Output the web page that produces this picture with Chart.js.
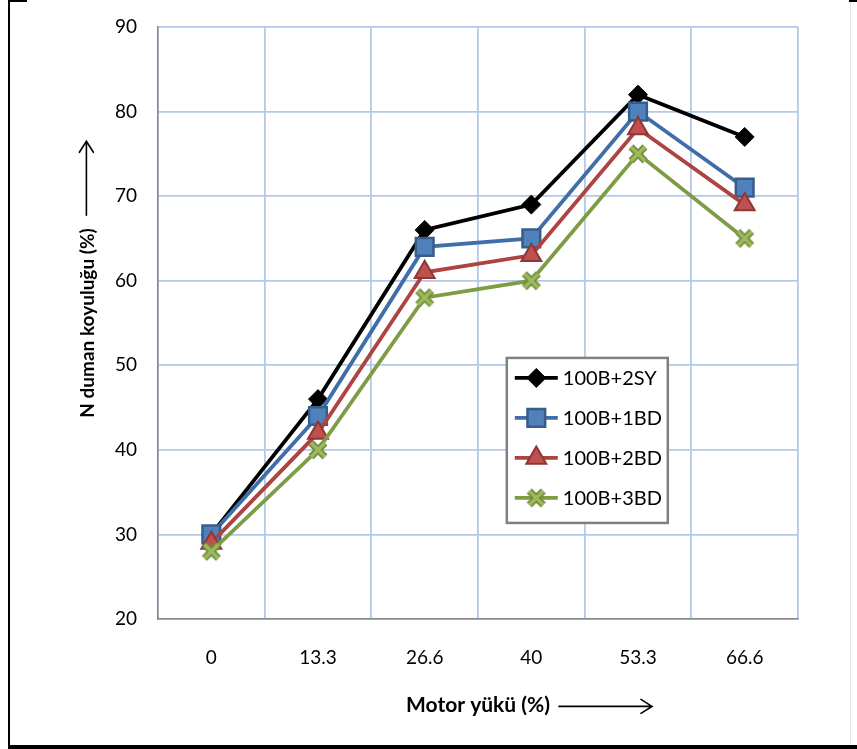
<!DOCTYPE html>
<html><head><meta charset="utf-8">
<script src="https://cdn.jsdelivr.net/npm/chart.js@4"></script>
<style>html,body{margin:0;padding:0;background:#fff}#wrap{position:relative;width:857px;height:749px}</style>
</head><body><div id="wrap"><canvas id="c" width="857" height="749"></canvas></div>
<script>
const categories = ['0', '13.3', '26.6', '40', '53.3', '66.6'];
const seriesNames = ['100B+2SY', '100B+1BD', '100B+2BD', '100B+3BD'];
const s2SY = [30, 46, 66, 69, 82, 77];
const s1BD = [30, 44, 64, 65, 80, 71];
const s2BD = [29, 42, 61, 63, 78, 69];
const s3BD = [28, 40, 58, 60, 75, 65];
const yMin = 20, yMax = 90, yStep = 10;
const xTitle = 'Motor yükü (%)';
const yTitle = 'N duman koyuluğu (%)';

const FONT = 'Lato';
function makeX(size) {
  const c = document.createElement('canvas');
  c.width = c.height = size;
  const g = c.getContext('2d');
  const p = 4, q = size - 4;
  g.beginPath(); g.moveTo(p, p); g.lineTo(q, q); g.moveTo(q, p); g.lineTo(p, q);
  g.strokeStyle = '#71893F'; g.lineWidth = 7; g.stroke();
  g.strokeStyle = '#9BBB59'; g.lineWidth = 3.5; g.stroke();
  return c;
}
const xImg = makeX(22);

const datasets = [
  {label: seriesNames[0], data: s2SY, borderColor: '#000000', pointStyle: 'rectRot', pointRadius: 9.5,
   pointBackgroundColor: '#000000', pointBorderColor: '#000000', pointBorderWidth: 1, order: 4},
  {label: seriesNames[1], data: s1BD, borderColor: '#3F6EA8', pointStyle: 'rect', pointRadius: 12.5,
   pointBackgroundColor: '#4F81BD', pointBorderColor: '#385D8A', pointBorderWidth: 2.5, order: 3},
  {label: seriesNames[2], data: s2BD, borderColor: '#AE4441', pointStyle: 'triangle', pointRadius: 11.5,
   pointBackgroundColor: '#C0504D', pointBorderColor: '#8C3836', pointBorderWidth: 2, order: 2},
  {label: seriesNames[3], data: s3BD, borderColor: '#7E9C44', pointStyle: xImg, pointRadius: 11,
   pointBackgroundColor: '#9BBB59', pointBorderColor: '#71893F', pointBorderWidth: 2, order: 1}
].map(d => Object.assign({borderWidth: 3.8, tension: 0, fill: false, pointHoverRadius: d.pointRadius}, d));

const boxLegend = {
  id: 'boxLegend',
  afterDatasetsDraw(chart) {
    const {ctx, chartArea: a} = chart;
    const w = a.right - a.left, h = a.bottom - a.top;
    const x0 = a.left + w * 0.545, y0 = a.top + h * 0.559;
    const bw = 161, bh = 165;
    ctx.save();
    ctx.fillStyle = '#fff';
    ctx.fillRect(x0, y0, bw, bh);
    ctx.strokeStyle = '#808080'; ctx.lineWidth = 2.5;
    ctx.strokeRect(x0, y0, bw, bh);
    chart.data.datasets.forEach((ds, i) => {
      const cy = y0 + 20 + i * 40;
      ctx.strokeStyle = ds.borderColor; ctx.lineWidth = 3.8;
      ctx.beginPath(); ctx.moveTo(x0 + 8, cy); ctx.lineTo(x0 + 51, cy); ctx.stroke();
      ctx.fillStyle = ds.pointBackgroundColor; ctx.strokeStyle = ds.pointBorderColor;
      ctx.lineWidth = ds.pointBorderWidth;
      Chart.helpers.drawPoint(ctx, {pointStyle: ds.pointStyle, radius: ds.pointRadius, rotation: 0, borderWidth: ds.pointBorderWidth}, x0 + 29.5, cy);
      ctx.fillStyle = '#000'; ctx.font = '20px ' + FONT; ctx.textBaseline = 'middle'; ctx.textAlign = 'left';
      ctx.fillText(ds.label, x0 + 56, cy + 1);
    });
    ctx.restore();
  }
};

const decor = {
  id: 'decor',
  afterDraw(chart) {
    const {ctx, chartArea: a} = chart;
    ctx.save();
    ctx.strokeStyle = '#000'; ctx.lineWidth = 1.6; ctx.lineCap = 'round';
    // x arrow
    ctx.font = 'bold 21px ' + FONT;
    const xw = ctx.measureText(xTitle).width;
    const xs = chart.scales.x;
    const tyc = xs.bottom - (21 * 1.2 / 2 + 31);
    const ax0 = (a.left + a.right) / 2 + xw / 2 + 9, ax1 = ax0 + 93, ay = tyc + 1;
    ctx.beginPath(); ctx.moveTo(ax0, ay); ctx.lineTo(ax1, ay);
    ctx.moveTo(ax1 - 11, ay - 7); ctx.lineTo(ax1, ay); ctx.lineTo(ax1 - 11, ay + 7); ctx.stroke();
    // y arrow
    ctx.font = 'bold 19px ' + FONT;
    const yw = ctx.measureText(yTitle).width;
    const ys = chart.scales.y;
    const txc = ys.left + 76 + 19 * 1.2 / 2 - 1;
    const by0 = (a.top + a.bottom) / 2 - yw / 2 - 13, by1 = by0 - 74;
    ctx.beginPath(); ctx.moveTo(txc, by0); ctx.lineTo(txc, by1);
    ctx.moveTo(txc - 7, by1 + 11); ctx.lineTo(txc, by1); ctx.lineTo(txc + 7, by1 + 11); ctx.stroke();
    // frame
    ctx.fillStyle = '#000';
    ctx.fillRect(8, 0, 2, 749);
    ctx.fillRect(8, 745, 849, 4);
    ctx.fillRect(8, 0, 19, 2);
    ctx.fillRect(849, 0, 8, 2);
    ctx.fillStyle = '#e6e6e6';
    ctx.fillRect(850, 2, 1, 743);
    ctx.restore();
  }
};

new Chart(document.getElementById('c'), {
  type: 'line',
  data: {labels: categories, datasets},
  options: {
    responsive: false, animation: false, devicePixelRatio: 1,
    layout: {padding: {top: 27, right: 59, left: 0, bottom: 0}},
    plugins: {legend: {display: false}, tooltip: {enabled: false}},
    scales: {
      x: {
        type: 'category', offset: true,
        grid: {color: '#B4C8EA', offset: true, drawTicks: false, lineWidth: 1.8},
        border: {color: '#868686', width: 1.5},
        ticks: {padding: 27, color: '#000', font: {family: FONT, size: 19}, maxRotation: 0},
        title: {display: true, text: xTitle, color: '#000', font: {family: FONT, size: 21, weight: 'bold'}, padding: {top: 0, bottom: 31}},
        afterFit(s) { s.height = 130; s.paddingLeft = 0; s.paddingRight = 0; }
      },
      y: {
        min: yMin, max: yMax,
        grid: {color: '#B4C8EA', drawTicks: false, lineWidth: 1.8},
        border: {color: '#868686', width: 1.5},
        ticks: {stepSize: yStep, padding: 21, color: '#000', font: {family: FONT, size: 19}},
        title: {display: true, text: yTitle, color: '#000', font: {family: FONT, size: 19, weight: 'bold'}, padding: {top: 76, bottom: 0}},
        afterFit(s) { s.width = 158; s.paddingTop = 0; s.paddingBottom = 0; }
      }
    }
  },
  plugins: [boxLegend, decor]
});
</script></body></html>
